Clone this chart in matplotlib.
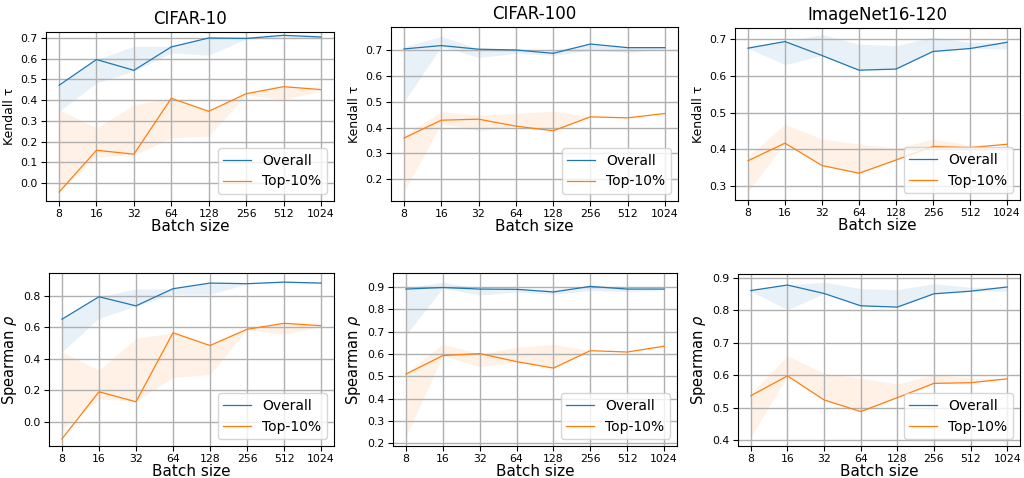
import numpy as np
import matplotlib
matplotlib.use("Agg")
import matplotlib.pyplot as plt
from matplotlib.ticker import MultipleLocator

# batch sizes (categorical x axis)
batch_sizes = ["8", "16", "32", "64", "128", "256", "512", "1024"]
datasets = ["CIFAR-10", "CIFAR-100", "ImageNet16-120"]

# Kendall tau: line values and shaded band (lower / upper)
kt_overall = {
    "CIFAR-10": [0.472, 0.596, 0.544, 0.657, 0.700, 0.698, 0.713, 0.705],
    "CIFAR-100": [0.705, 0.718, 0.704, 0.701, 0.688, 0.724, 0.710, 0.710],
    "ImageNet16-120": [0.676, 0.694, 0.656, 0.616, 0.619, 0.667, 0.675, 0.692],
}
kt_overall_lo = {
    "CIFAR-10": [0.346, 0.483, 0.540, 0.628, 0.617, 0.695, 0.705, 0.700],
    "CIFAR-100": [0.500, 0.715, 0.672, 0.688, 0.680, 0.700, 0.691, 0.705],
    "ImageNet16-120": [0.676, 0.631, 0.656, 0.616, 0.619, 0.667, 0.675, 0.674],
}
kt_overall_hi = {
    "CIFAR-10": [0.472, 0.596, 0.660, 0.660, 0.700, 0.700, 0.713, 0.708],
    "CIFAR-100": [0.713, 0.754, 0.706, 0.705, 0.700, 0.724, 0.712, 0.712],
    "ImageNet16-120": [0.681, 0.694, 0.713, 0.687, 0.683, 0.706, 0.692, 0.692],
}
kt_top = {
    "CIFAR-10": [-0.044, 0.158, 0.139, 0.409, 0.346, 0.431, 0.465, 0.451],
    "CIFAR-100": [0.360, 0.429, 0.433, 0.406, 0.388, 0.442, 0.438, 0.455],
    "ImageNet16-120": [0.369, 0.417, 0.356, 0.335, 0.371, 0.408, 0.405, 0.414],
}
kt_top_lo = {
    "CIFAR-10": [-0.040, 0.129, 0.132, 0.218, 0.226, 0.425, 0.403, 0.443],
    "CIFAR-100": [0.152, 0.416, 0.388, 0.406, 0.388, 0.442, 0.438, 0.455],
    "ImageNet16-120": [0.284, 0.417, 0.356, 0.335, 0.371, 0.408, 0.405, 0.414],
}
kt_top_hi = {
    "CIFAR-10": [0.354, 0.266, 0.378, 0.410, 0.346, 0.432, 0.465, 0.452],
    "CIFAR-100": [0.371, 0.462, 0.449, 0.455, 0.464, 0.442, 0.438, 0.455],
    "ImageNet16-120": [0.380, 0.469, 0.428, 0.415, 0.403, 0.428, 0.412, 0.414],
}

# Spearman rho
sp_overall = {
    "CIFAR-10": [0.651, 0.794, 0.736, 0.845, 0.881, 0.877, 0.887, 0.881],
    "CIFAR-100": [0.891, 0.898, 0.891, 0.890, 0.878, 0.903, 0.891, 0.891],
    "ImageNet16-120": [0.861, 0.878, 0.852, 0.814, 0.810, 0.851, 0.859, 0.872],
}
sp_overall_lo = {
    "CIFAR-10": [0.444, 0.657, 0.736, 0.810, 0.810, 0.875, 0.882, 0.878],
    "CIFAR-100": [0.686, 0.895, 0.864, 0.878, 0.868, 0.884, 0.880, 0.888],
    "ImageNet16-120": [0.859, 0.802, 0.852, 0.814, 0.810, 0.851, 0.859, 0.859],
}
sp_overall_hi = {
    "CIFAR-10": [0.651, 0.794, 0.843, 0.845, 0.881, 0.880, 0.888, 0.882],
    "CIFAR-100": [0.895, 0.922, 0.893, 0.893, 0.890, 0.903, 0.895, 0.893],
    "ImageNet16-120": [0.864, 0.878, 0.887, 0.867, 0.864, 0.882, 0.871, 0.872],
}
sp_top = {
    "CIFAR-10": [-0.110, 0.190, 0.126, 0.565, 0.484, 0.587, 0.625, 0.610],
    "CIFAR-100": [0.510, 0.593, 0.602, 0.566, 0.537, 0.615, 0.609, 0.635],
    "ImageNet16-120": [0.537, 0.598, 0.524, 0.488, 0.531, 0.575, 0.577, 0.589],
}
sp_top_lo = {
    "CIFAR-10": [-0.050, 0.145, 0.130, 0.280, 0.300, 0.585, 0.555, 0.604],
    "CIFAR-100": [0.228, 0.593, 0.543, 0.566, 0.537, 0.615, 0.609, 0.635],
    "ImageNet16-120": [0.410, 0.598, 0.524, 0.488, 0.531, 0.575, 0.577, 0.589],
}
sp_top_hi = {
    "CIFAR-10": [0.444, 0.327, 0.529, 0.565, 0.484, 0.590, 0.625, 0.610],
    "CIFAR-100": [0.513, 0.645, 0.602, 0.630, 0.644, 0.615, 0.609, 0.635],
    "ImageNet16-120": [0.544, 0.660, 0.606, 0.591, 0.573, 0.603, 0.591, 0.589],
}

kt_ylim = {"CIFAR-10": (-0.087, 0.729), "CIFAR-100": (0.116, 0.79), "ImageNet16-120": (0.262, 0.731)}
sp_ylim = {"CIFAR-10": (-0.155, 0.945), "CIFAR-100": (0.188, 0.963), "ImageNet16-120": (0.382, 0.912)}
sp_step = {"CIFAR-10": 0.2, "CIFAR-100": 0.1, "ImageNet16-120": 0.1}

W, H = 1024, 478
fig = plt.figure(figsize=(W / 100, H / 100), dpi=100)

# axes boxes in pixels: left, right, top, bottom
boxes = [
    [(46, 334, 32, 201), (391, 678, 27, 201), (735, 1020, 28, 200)],
    [(49, 334, 273, 446), (393, 677, 273, 446), (738, 1020, 274, 446)],
]

x = np.arange(len(batch_sizes))
rows = [
    (kt_overall, kt_overall_lo, kt_overall_hi, kt_top, kt_top_lo, kt_top_hi, kt_ylim, "Kendall τ", 9),
    (sp_overall, sp_overall_lo, sp_overall_hi, sp_top, sp_top_lo, sp_top_hi, sp_ylim, r"Spearman $\rho$", 10.5),
]
for r, (ov, ov_lo, ov_hi, tp, tp_lo, tp_hi, ylim, ylab, yfs) in enumerate(rows):
    for c, ds in enumerate(datasets):
        l, rr, t, b = boxes[r][c]
        ax = fig.add_axes([l / W, 1 - b / H, (rr - l) / W, (b - t) / H])
        ax.plot(x, ov[ds], color="tab:blue", lw=0.9, label="Overall")
        ax.fill_between(x, ov_lo[ds], ov_hi[ds], color="tab:blue", alpha=0.1, lw=0)
        ax.plot(x, tp[ds], color="tab:orange", lw=0.9, label="Top-10%")
        ax.fill_between(x, tp_lo[ds], tp_hi[ds], color="tab:orange", alpha=0.1, lw=0)
        ax.set_xticks(x)
        ax.set_xticklabels(batch_sizes)
        ax.set_ylim(ylim[ds])
        ax.yaxis.set_major_locator(MultipleLocator(0.1 if r == 0 else sp_step[ds]))
        ax.grid(True, color="#b0b0b0", lw=1)
        ax.tick_params(labelsize=7.8, pad=2.5)
        ax.set_xlabel("Batch size", fontsize=11, labelpad=0)
        ax.set_ylabel(ylab, fontsize=yfs, labelpad=3)
        ax.legend(loc="lower right", fontsize=10)
        if r == 0:
            ax.set_title(ds, fontsize=12, pad=6)

fig.savefig("out.png")
